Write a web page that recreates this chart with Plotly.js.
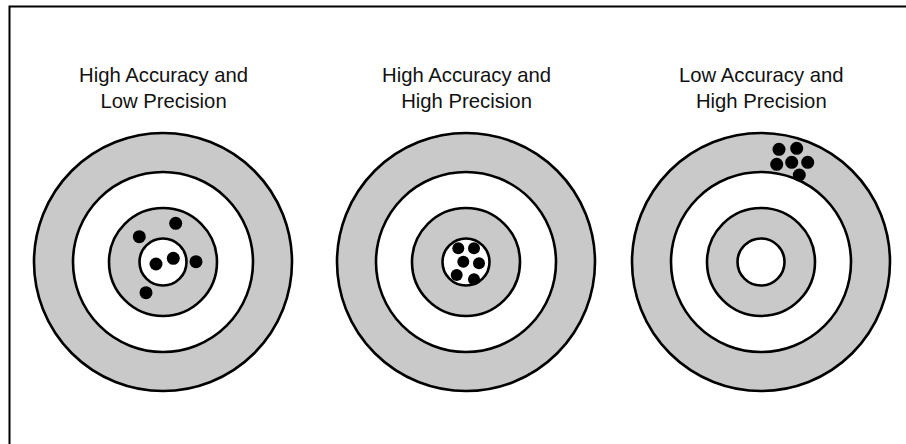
<!DOCTYPE html>
<html>
<head>
<meta charset="utf-8">
<script src="https://cdn.plot.ly/plotly-3.0.1.min.js"></script>
<style>html,body{margin:0;padding:0;background:#fff;}#chart{width:906px;height:444px;}</style>
</head>
<body>
<div id="chart"></div>
<script>
// ---- data ----
const targetTitles = [
  "High Accuracy and<br>Low Precision",
  "High Accuracy and<br>High Precision",
  "Low Accuracy and<br>High Precision"
];
const targetCenterX = [163, 466, 761];
const ringRadii = [129, 90, 54, 23.5];
const ringFills = ["#c9c9c9", "#ffffff", "#c9c9c9", "#ffffff"];
// shot offsets from each target centre (x right, y up)
const shotsDX = [
  [12.7, -23.7, -7, 10.3, 33, -17],
  [-7.7, 8, -2.7, 13, -9.3, 8],
  [18, 35.7, 15.7, 30.7, 46.7, 38.3]
];
const shotsDY = [
  [38.7, 25.3, -2, 3.7, 0.3, -30.7],
  [13.7, 13.7, 0.3, -1.3, -13, -17.3],
  [112.7, 113.7, 97.7, 99.7, 99.7, 87]
];
const shotSizes = [13, 12, 13];

// ---- build ----
const shapes = [];
targetCenterX.forEach(cx => {
  ringRadii.forEach((r, i) => {
    shapes.push({
      type: "circle", xref: "x", yref: "y",
      x0: cx - r, x1: cx + r, y0: -r, y1: r,
      fillcolor: ringFills[i],
      line: {color: "#000", width: 2.6},
      layer: "below"
    });
  });
});
// frame
shapes.push({
  type: "rect", xref: "x", yref: "y",
  x0: 9.5, x1: 930, y0: 255.5, y1: -220,
  line: {color: "#000", width: 2}, fillcolor: "rgba(0,0,0,0)", layer: "above"
});

const traces = targetCenterX.map((cx, t) => ({
  type: "scatter", mode: "markers",
  x: shotsDX[t].map(d => cx + d),
  y: shotsDY[t],
  marker: {size: shotSizes[t], color: "#000", line: {width: 0}},
  hoverinfo: "skip", showlegend: false, cliponaxis: false
}));

const annotations = targetCenterX.map((cx, t) => ({
  x: cx, y: 174.5, xref: "x", yref: "y",
  text: targetTitles[t], showarrow: false,
  xanchor: "center", yanchor: "middle",
  font: {family: "Liberation Sans, Arial, sans-serif", size: 20.3, color: "#111"}
}));

const layout = {
  width: 906, height: 444,
  margin: {l: 0, r: 0, t: 0, b: 0, pad: 0},
  paper_bgcolor: "#fff", plot_bgcolor: "#fff",
  xaxis: {range: [0, 906], visible: false, fixedrange: true},
  yaxis: {range: [-182, 262], visible: false, fixedrange: true},
  shapes: shapes,
  annotations: annotations,
  showlegend: false
};

Plotly.newPlot("chart", traces, layout, {staticPlot: true, displayModeBar: false});
</script>
</body>
</html>
